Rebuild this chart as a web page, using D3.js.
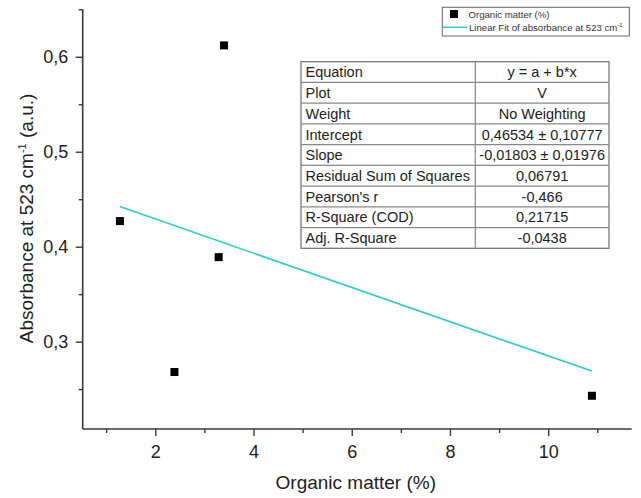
<!DOCTYPE html>
<html>
<head>
<meta charset="utf-8">
<script src="https://cdn.jsdelivr.net/npm/d3@7"></script>
<style>
  html, body { margin: 0; padding: 0; background: #fff; }
  svg { display: block; font-family: "Liberation Sans", Arial, sans-serif; }
</style>
</head>
<body>
<svg id="chart" width="641" height="498"></svg>
<script>
// ---- data ----
const organicMatter = [1.28, 2.39, 3.29, 3.40, 10.89];
const absorbance = [0.427, 0.268, 0.389, 0.612, 0.243];
const fitIntercept = 0.46534;
const fitSlope = -0.01803;
const xMajorTicks = [2, 4, 6, 8, 10];
const xMinorTicks = [1, 3, 5, 7, 9, 11];
const yMajorTicks = [0.3, 0.4, 0.5, 0.6];
const yMinorTicks = [0.25, 0.35, 0.45, 0.55, 0.65];
const tableLabels = ["Equation", "Plot", "Weight", "Intercept", "Slope",
  "Residual Sum of Squares", "Pearson's r", "R-Square (COD)", "Adj. R-Square"];
const tableValues = ["y = a + b*x", "V", "No Weighting", "0,46534 ± 0,10777",
  "-0,01803 ± 0,01976", "0,06791", "-0,466", "0,21715", "-0,0438"];
const legendLabels = ["Organic matter (%)", "Linear Fit of absorbance at 523 cm"];

// ---- layout ----
const svg = d3.select("#chart");
svg.append("rect").attr("width", 641).attr("height", 498).attr("fill", "#fff");

const x = d3.scaleLinear().domain([0.522, 11.7]).range([82.7, 631.7]);
const y = d3.scaleLinear().domain([0.208, 0.65]).range([429, 9.3]);
const axisColor = "#3a3a3a";
const fitColor = "#2ccacc";
const comma = d => d3.format(".1f")(d).replace(".", ",");

// x axis
const gx = svg.append("g").attr("transform", "translate(0,429)");
gx.call(d3.axisBottom(x).tickValues(xMajorTicks).tickSize(7).tickPadding(9.5)
  .tickFormat(d3.format("d")));
gx.select(".domain").attr("d", `M${x.range()[0]},0H${x.range()[1]}`);
const gxm = svg.append("g").attr("transform", "translate(0,429)");
gxm.call(d3.axisBottom(x).tickValues(xMinorTicks).tickSize(4).tickFormat(""));
gxm.select(".domain").remove();

// y axis
const gy = svg.append("g").attr("transform", "translate(82.7,0)");
gy.call(d3.axisLeft(y).tickValues(yMajorTicks).tickSize(7).tickPadding(7.4)
  .tickFormat(comma));
gy.select(".domain").attr("d", `M0,${y.range()[0]}V${y.range()[1]}`);
const gym = svg.append("g").attr("transform", "translate(82.7,0)");
gym.call(d3.axisLeft(y).tickValues(yMinorTicks).tickSize(4).tickFormat(""));
gym.select(".domain").remove();

svg.selectAll(".domain").attr("stroke", axisColor).attr("stroke-width", 1.6);
svg.selectAll(".tick line").attr("stroke", axisColor).attr("stroke-width", 1.4);
svg.selectAll(".tick text").attr("fill", "#222").attr("font-size", 18)
  .attr("font-family", "Liberation Sans, Arial, sans-serif");

// axis titles
svg.append("text").attr("x", 355.8).attr("y", 489.3).attr("text-anchor", "middle")
  .attr("font-size", 19).attr("fill", "#222").text("Organic matter (%)");

const yl = svg.append("text").attr("transform", "translate(32.5,218.4) rotate(-90)")
  .attr("text-anchor", "middle").attr("font-size", 19).attr("fill", "#222");
yl.append("tspan").text("Absorbance at 523 cm");
yl.append("tspan").attr("font-size", 11).attr("dy", -7).text("-1");
yl.append("tspan").attr("dy", 7).text(" (a.u.)");

// fit line
const xExt = d3.extent(organicMatter);
const line = d3.line().x(d => x(d)).y(d => y(fitIntercept + fitSlope * d));
svg.append("path").datum(xExt).attr("d", line).attr("fill", "none")
  .attr("stroke", fitColor).attr("stroke-width", 1.6);

// points
const pts = organicMatter.map((v, i) => ({ x: v, y: absorbance[i] }));
const ms = 8;
svg.selectAll("rect.pt").data(pts).join("rect").attr("class", "pt")
  .attr("x", d => x(d.x) - ms / 2).attr("y", d => y(d.y) - ms / 2)
  .attr("width", ms).attr("height", ms).attr("fill", "#000");

// legend
const lg = svg.append("g");
lg.append("rect").attr("x", 442.3).attr("y", 7.3).attr("width", 187).attr("height", 28.7)
  .attr("fill", "#fff").attr("stroke", "#666").attr("stroke-width", 1);
lg.append("rect").attr("x", 450).attr("y", 10).attr("width", 8).attr("height", 8).attr("fill", "#000");
lg.append("line").attr("x1", 443).attr("x2", 467).attr("y1", 27.3).attr("y2", 27.3)
  .attr("stroke", fitColor).attr("stroke-width", 1.5);
lg.append("text").attr("x", 468.5).attr("y", 18.2).attr("font-size", 9.6).attr("fill", "#333")
  .text(legendLabels[0]);
const lt = lg.append("text").attr("x", 469).attr("y", 31.2).attr("font-size", 9.6).attr("fill", "#333");
lt.append("tspan").text(legendLabels[1]);
lt.append("tspan").attr("font-size", 6).attr("dy", -4).text("-1");

// table
const tX0 = 301, tX1 = 475.3, tX2 = 609, tY0 = 61.7, rowH = (248.3 - 61.7) / tableLabels.length;
const tg = svg.append("g");
tg.append("rect").attr("x", tX0).attr("y", tY0).attr("width", tX2 - tX0)
  .attr("height", rowH * tableLabels.length).attr("fill", "#fff")
  .attr("stroke", "#777").attr("stroke-width", 1.3);
for (let i = 1; i < tableLabels.length; i++) {
  tg.append("line").attr("x1", tX0).attr("x2", tX2).attr("y1", tY0 + i * rowH).attr("y2", tY0 + i * rowH)
    .attr("stroke", "#888").attr("stroke-width", 1.2);
}
tg.append("line").attr("x1", tX1).attr("x2", tX1).attr("y1", tY0).attr("y2", tY0 + rowH * tableLabels.length)
  .attr("stroke", "#888").attr("stroke-width", 1.2);
tg.selectAll("text.lab").data(tableLabels).join("text").attr("class", "lab")
  .attr("x", tX0 + 4.5).attr("y", (d, i) => tY0 + i * rowH + 15.6)
  .attr("font-size", 14.5).attr("fill", "#222").text(d => d);
tg.selectAll("text.val").data(tableValues).join("text").attr("class", "val")
  .attr("x", (tX1 + tX2) / 2).attr("y", (d, i) => tY0 + i * rowH + 15.6)
  .attr("text-anchor", "middle").attr("font-size", 14.5).attr("fill", "#222").text(d => d);
</script>
</body>
</html>
